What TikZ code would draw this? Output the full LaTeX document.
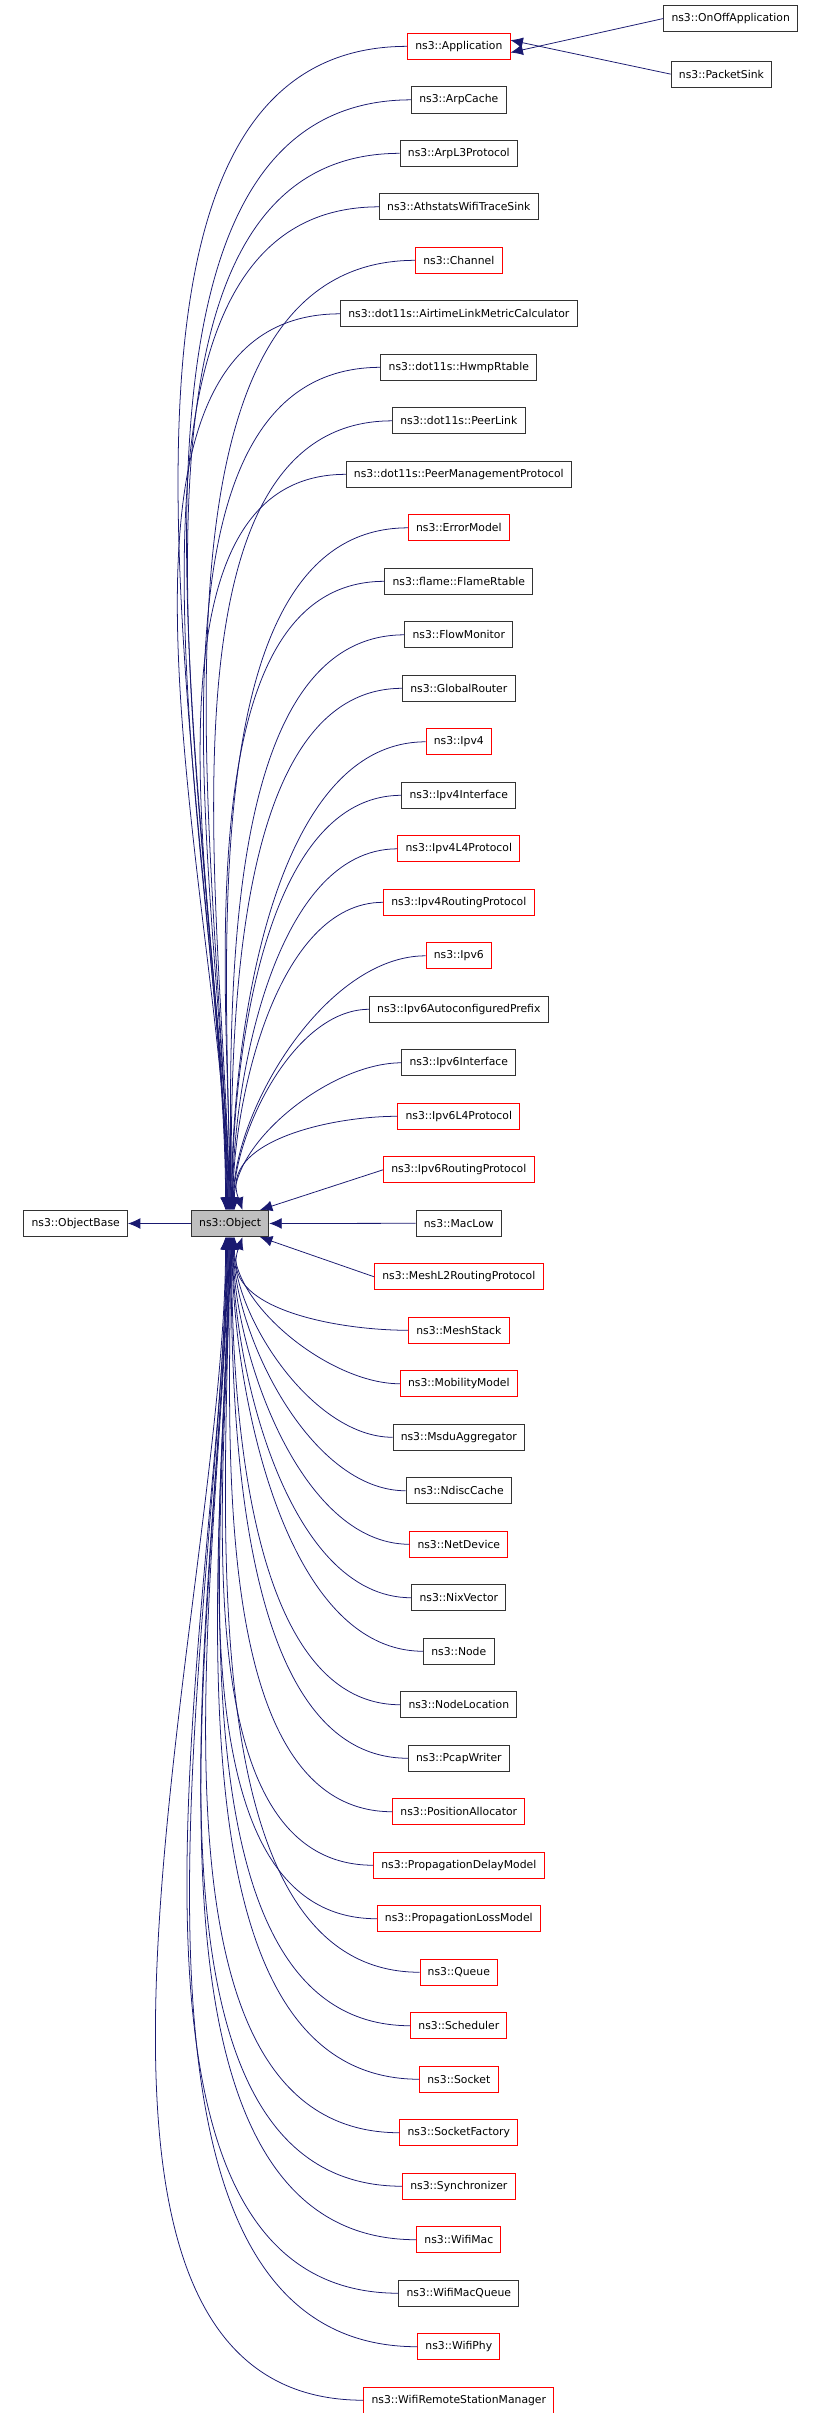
\documentclass[tikz,border=0pt]{standalone}
\usepackage{fontspec}
\setmainfont{DejaVu Sans}
\usetikzlibrary{arrows.meta}
\definecolor{edge}{RGB}{25,25,112}
\tikzset{
 cls/.style={draw=black!80,line width=0.6pt,font=\fontsize{7}{8}\selectfont,minimum height=17pt,inner xsep=5pt,inner ysep=0pt,fill=white},
 redcls/.style={cls,draw=red},
 cur/.style={cls,fill=black!25},
 inh/.style={draw=edge,line width=0.5pt,-{Latex[length=8pt,width=7pt]}},
}
\begin{document}
\begin{tikzpicture}[x=1pt,y=-1pt]
\useasboundingbox (0,0) rectangle (530,1562);
\node[cur] (obj) at (149,792) {ns3::Object};
\node[cls] (base) at (49,792) {ns3::ObjectBase};
\draw[inh] (obj) -- (base);
\foreach \k/\t/\s in {
0/Application/redcls,1/ArpCache/cls,2/ArpL3Protocol/cls,3/AthstatsWifiTraceSink/cls,4/Channel/redcls,
5/dot11s::AirtimeLinkMetricCalculator/cls,6/dot11s::HwmpRtable/cls,7/dot11s::PeerLink/cls,8/dot11s::PeerManagementProtocol/cls,
9/ErrorModel/redcls,10/flame::FlameRtable/cls,11/FlowMonitor/cls,12/GlobalRouter/cls,13/Ipv4/redcls,14/Ipv4Interface/cls,
15/Ipv4L4Protocol/redcls,16/Ipv4RoutingProtocol/redcls,17/Ipv6/redcls,18/Ipv6AutoconfiguredPrefix/cls,19/Ipv6Interface/cls,
20/Ipv6L4Protocol/redcls,21/Ipv6RoutingProtocol/redcls,22/MacLow/cls,23/MeshL2RoutingProtocol/redcls,24/MeshStack/redcls,
25/MobilityModel/redcls,26/MsduAggregator/cls,27/NdiscCache/cls,28/NetDevice/redcls,29/NixVector/cls,30/Node/cls,
31/NodeLocation/cls,32/PcapWriter/cls,33/PositionAllocator/redcls,34/PropagationDelayModel/redcls,35/PropagationLossModel/redcls,
36/Queue/redcls,37/Scheduler/redcls,38/Socket/redcls,39/SocketFactory/redcls,40/Synchronizer/redcls,41/WifiMac/redcls,
42/WifiMacQueue/cls,43/WifiPhy/redcls,44/WifiRemoteStationManager/redcls}{
 \node[\s] (c\k) at (297,{30+34.63*\k}) {ns3::\t};
 \ifnum\k<20
  \draw[inh] (c\k.west) to[out=180,in=90,looseness=0.8] ([xshift={(\k-10)*0.3pt}]obj.north);
 \else\ifnum\k=20
  \draw[inh] (c\k.west) to[out=180,in=110] ([xshift=8pt]obj.north);
 \else\ifnum\k=21
  \draw[inh] (c\k.west) -- ([xshift=-6pt]obj.north east);
 \else\ifnum\k=22
  \draw[inh] (c\k) -- (obj);
 \else\ifnum\k=23
  \draw[inh] (c\k.west) -- ([xshift=-6pt]obj.south east);
 \else\ifnum\k=24
  \draw[inh] (c\k.west) to[out=180,in=-110] ([xshift=8pt]obj.south);
 \else
  \draw[inh] (c\k.west) to[out=180,in=-90,looseness=0.8] ([xshift={(34-\k)*0.3pt}]obj.south);
 \fi\fi\fi\fi\fi\fi
}
\node[cls] (onoff) at (473,12) {ns3::OnOffApplication};
\node[cls] (sink) at (467,48) {ns3::PacketSink};
\draw[inh] (onoff.west) -- ([yshift=-4pt]c0.east);
\draw[inh] (sink.west) -- ([yshift=4pt]c0.east);
\end{tikzpicture}
\end{document}
